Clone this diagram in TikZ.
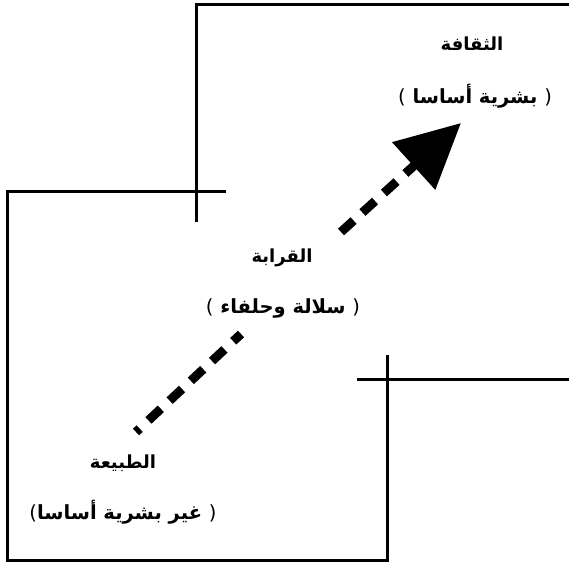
\documentclass[tikz,border=0pt]{standalone}
\usepackage{fontspec}
\usetikzlibrary{arrows.meta}
\TeXXeTstate=1
\newfontfamily\arabicfont[Script=Arabic]{DejaVu Sans}
\newfontfamily\parenfont{DejaVu Sans}
\newcommand{\lp}{{\parenfont\mdseries(}}
\newcommand{\rp}{{\parenfont\mdseries)}}
\tikzset{
  frame/.style={line width=3pt, line cap=rect},
  lbl/.style={font=\arabicfont\bfseries\fontsize{18pt}{20pt}\selectfont, inner sep=0pt},
  sublbl/.style={font=\arabicfont\bfseries\fontsize{19.5pt}{22pt}\selectfont, inner sep=0pt},
  dashline/.style={line width=9pt, dash pattern=on 17pt off 12pt},
}
\begin{document}
\begin{tikzpicture}[x=1pt,y=-1pt]
\useasboundingbox (0,0) rectangle (569,564);
% frames
\draw[frame] (196,220) -- (196,5) -- (569,5);
\draw[frame] (7,560) -- (7,191) -- (224,191);
\draw[frame] (387,356) -- (387,560) -- (7,560);
\draw[frame] (358,379) -- (569,379);
% labels
\node[lbl] (culture) at (472,44) {\beginR الثقافة\endR};
\node[sublbl] (culturesub) at (475,96) {\lp\ \beginR بشرية أساسا\endR\ \rp};
\node[lbl] (kinship) at (282,258) {\beginR القرابة\endR};
\node[sublbl] (kinshipsub) at (283,308) {\lp\ \beginR سلالة وحلفاء\endR\ \rp};
\node[lbl] (nature) at (123,463) {\beginR الطبيعة\endR};
\node[sublbl] (naturesub) at (123,512) {\lp\beginR غير بشرية أساسا\endR\ \rp};
% connector ends
\coordinate (a1) at (136,432);
\coordinate (a2) at (241,334);
\coordinate (b1) at (341,232);
\coordinate (b2) at (461,123);
\draw[dashline, dash phase=12pt] (a1) -- (a2);
\draw[dashline, -{Triangle[length=64pt,width=62pt]}] (b1) -- (b2);
\end{tikzpicture}
\end{document}
